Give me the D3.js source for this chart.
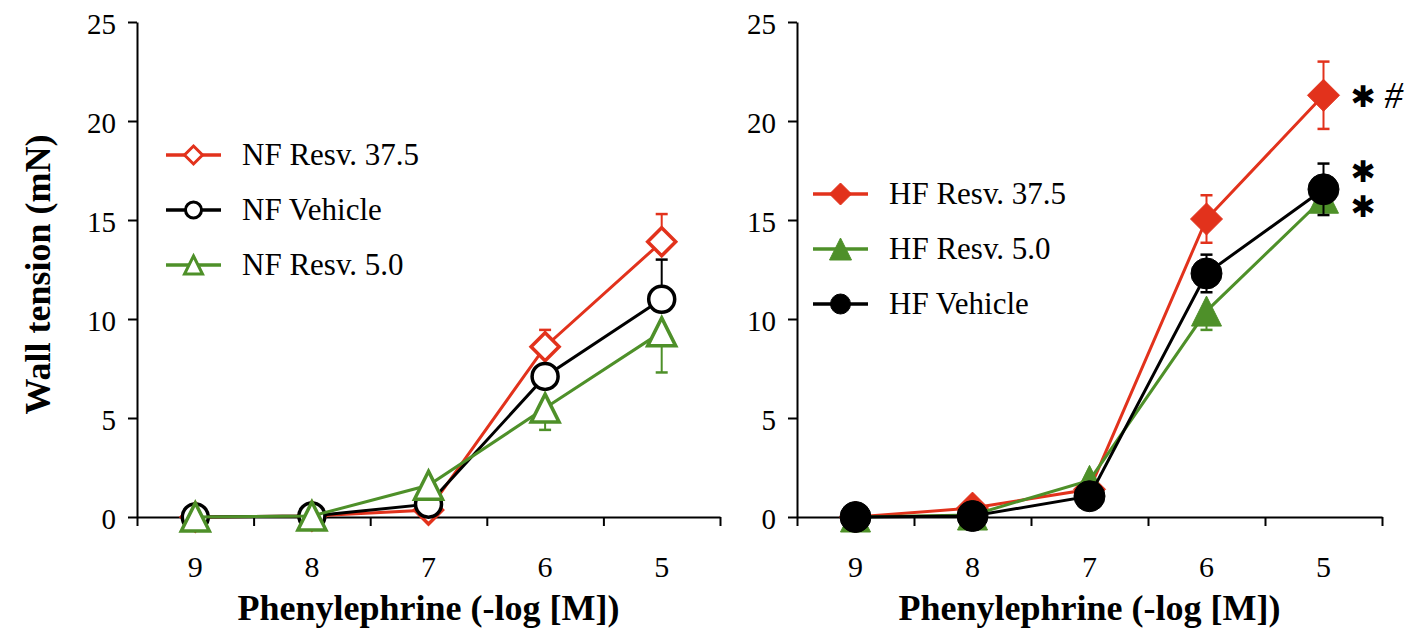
<!DOCTYPE html>
<html>
<head>
<meta charset="utf-8">
<script src="https://cdn.jsdelivr.net/npm/d3@7"></script>
<style>
  body { margin: 0; background: #fff; }
  svg text { font-family: "Liberation Serif", "Times New Roman", serif; }
  svg text.asterisco { font-family: "DejaVu Sans", sans-serif; }
</style>
</head>
<body>
<div id="grafico"></div>
<script>
const concentracoes = ["9", "8", "7", "6", "5"];
const ticksY = [0, 5, 10, 15, 20, 25];

// NF (painel esquerdo)
const nfResv375 = [0, 0.05, 0.35, 8.6, 13.9];
const nfResv375ErroCima = [0, 0, 0, 0.85, 1.4];
const nfVehicle = [0, 0.05, 0.65, 7.1, 11.0];
const nfVehicleErroCima = [0, 0, 0, 0, 2.0];
const nfResv50 = [0, 0.05, 1.6, 5.5, 9.35];
const nfResv50ErroBaixo = [0, 0, 0, 1.1, 2.05];

// HF (painel direito)
const hfResv375 = [0, 0.45, 1.4, 15.05, 21.3];
const hfResv375Erro = [0, 0, 0, 1.2, 1.7];
const hfResv50 = [0, 0.1, 1.85, 10.4, 16.1];
const hfResv50ErroBaixo = [0, 0, 0, 0.95, 0];
const hfVehicle = [0, 0.05, 1.05, 12.3, 16.55];
const hfVehicleErro = [0, 0, 0, 0.95, 1.3];

const anotacoesHF = [
  { texto: "\u2731", valor: 21.25 },
  { texto: "\u2731", valor: 17.5 },
  { texto: "\u2731", valor: 15.7 }
];

const vermelho = "#e2321c";
const verde = "#4e9029";
const preto = "#000";

const largura = 1416, altura = 635;
const svg = d3.select("#grafico").append("svg")
  .attr("width", largura)
  .attr("height", altura);

const y = d3.scaleLinear().domain([0, 25]).range([517, 22]);

function caminhoMarcador(tipo, r) {
  if (tipo === "diamante") return `M0,${-r}L${r},0L0,${r}L${-r},0Z`;
  if (tipo === "triangulo") return `M0,${-r}L${r},${r}L${-r},${r}Z`;
  return d3.arc()({ innerRadius: 0, outerRadius: r, startAngle: 0, endAngle: 2 * Math.PI });
}

function desenharPainel(x0, x1, series, legenda, rotuloY) {
  const g = svg.append("g");
  const x = d3.scaleBand().domain(concentracoes).range([x0, x1]).padding(0);
  const xBordas = d3.scaleLinear().domain([0, concentracoes.length]).range([x0, x1]);

  // eixo x: marcas entre categorias
  g.append("g")
    .attr("transform", `translate(0,${y(0)})`)
    .call(d3.axisBottom(xBordas).ticks(5).tickFormat("").tickSize(9).tickSizeOuter(0))
    .call(a => a.selectAll("path, line").attr("stroke", "#000").attr("stroke-width", 2));

  g.append("g")
    .attr("transform", `translate(0,${y(0)})`)
    .call(d3.axisBottom(x).tickSize(0).tickSizeOuter(0))
    .call(a => a.select(".domain").remove())
    .call(a => a.selectAll("text")
      .attr("y", 60).attr("dy", 0)
      .attr("font-size", 30).attr("fill", "#000"));

  g.append("g")
    .attr("transform", `translate(${x0},0)`)
    .call(d3.axisLeft(y).tickValues(ticksY).tickSize(9).tickSizeOuter(0).tickPadding(12))
    .call(a => a.selectAll("path, line").attr("stroke", "#000").attr("stroke-width", 2))
    .call(a => a.selectAll("text")
      .attr("font-size", 29).attr("fill", "#000")
      .attr("dy", "0.4em"));

  g.append("text")
    .attr("x", (x0 + x1) / 2)
    .attr("y", 620)
    .attr("text-anchor", "middle")
    .attr("font-size", 36)
    .attr("font-weight", "bold")
    .text("Phenylephrine (-log [M])");

  if (rotuloY) {
    g.append("text")
      .attr("transform", `translate(50,${(y(0) + y(25)) / 2 + 5}) rotate(-90)`)
      .attr("text-anchor", "middle")
      .attr("font-size", 36)
      .attr("font-weight", "bold")
      .text("Wall tension (mN)");
  }

  const linha = d3.line().x((d, i) => x(concentracoes[i]) + x.bandwidth() / 2).y(d => y(d));

  series.forEach(s => {
    const gs = g.append("g");
    // barras de erro
    s.valores.forEach((v, i) => {
      const cx = x(concentracoes[i]) + x.bandwidth() / 2;
      const cima = s.erroCima ? s.erroCima[i] : 0;
      const baixo = s.erroBaixo ? s.erroBaixo[i] : 0;
      [[cima, 1], [baixo, -1]].forEach(([e, sinal]) => {
        if (!e) return;
        const yf = y(v + sinal * e);
        gs.append("line").attr("x1", cx).attr("x2", cx).attr("y1", y(v)).attr("y2", yf)
          .attr("stroke", s.cor).attr("stroke-width", 2);
        gs.append("line").attr("x1", cx - 6).attr("x2", cx + 6).attr("y1", yf).attr("y2", yf)
          .attr("stroke", s.cor).attr("stroke-width", 2.5);
      });
    });
    gs.append("path")
      .datum(s.valores)
      .attr("d", linha)
      .attr("fill", "none")
      .attr("stroke", s.cor)
      .attr("stroke-width", 3);
    gs.selectAll("path.marcador")
      .data(s.valores)
      .enter()
      .append("path")
      .attr("class", "marcador")
      .attr("transform", (d, i) => `translate(${x(concentracoes[i]) + x.bandwidth() / 2},${y(d)})`)
      .attr("d", caminhoMarcador(s.marcador, s.raio))
      .attr("fill", s.cheio ? s.cor : "#fff")
      .attr("stroke", s.cor)
      .attr("stroke-width", s.cheio ? 1 : 3.5);
  });

  // legenda
  const leg = g.append("g");
  legenda.itens.forEach((s, i) => {
    const ly = legenda.y + i * 55;
    leg.append("line")
      .attr("x1", legenda.x).attr("x2", legenda.x + 55)
      .attr("y1", ly).attr("y2", ly)
      .attr("stroke", s.cor).attr("stroke-width", 3.5);
    leg.append("path")
      .attr("transform", `translate(${legenda.x + 27.5},${ly})`)
      .attr("d", caminhoMarcador(s.marcador, s.raioLegenda))
      .attr("fill", s.cheio ? s.cor : "#fff")
      .attr("stroke", s.cor)
      .attr("stroke-width", s.cheio ? 1 : 3);
    leg.append("text")
      .attr("x", legenda.x + 76)
      .attr("y", ly + 10)
      .attr("font-size", 31)
      .text(s.nome);
  });

  return x;
}

const nfSeries = {
  r375: { nome: "NF Resv. 37.5", valores: nfResv375, erroCima: nfResv375ErroCima, cor: vermelho, marcador: "diamante", raio: 14, raioLegenda: 9, cheio: false },
  veh: { nome: "NF Vehicle", valores: nfVehicle, erroCima: nfVehicleErroCima, cor: preto, marcador: "circulo", raio: 13, raioLegenda: 8, cheio: false },
  r50: { nome: "NF Resv. 5.0", valores: nfResv50, erroBaixo: nfResv50ErroBaixo, cor: verde, marcador: "triangulo", raio: 14, raioLegenda: 9, cheio: false }
};
desenharPainel(137, 720, [nfSeries.r375, nfSeries.veh, nfSeries.r50],
  { x: 166, y: 155, itens: [nfSeries.r375, nfSeries.veh, nfSeries.r50] }, true);

const hfSeries = {
  r375: { nome: "HF Resv. 37.5", valores: hfResv375, erroCima: hfResv375Erro, erroBaixo: hfResv375Erro, cor: vermelho, marcador: "diamante", raio: 16, raioLegenda: 11, cheio: true },
  r50: { nome: "HF Resv. 5.0", valores: hfResv50, erroBaixo: hfResv50ErroBaixo, cor: verde, marcador: "triangulo", raio: 15, raioLegenda: 11, cheio: true },
  veh: { nome: "HF Vehicle", valores: hfVehicle, erroCima: hfVehicleErro, erroBaixo: hfVehicleErro, cor: preto, marcador: "circulo", raio: 15.5, raioLegenda: 10, cheio: true }
};
const xHF = desenharPainel(797, 1382, [hfSeries.r375, hfSeries.r50, hfSeries.veh],
  { x: 813, y: 194, itens: [hfSeries.r375, hfSeries.r50, hfSeries.veh] }, false);

// marcas de significancia
const xAnot = xHF("5") + xHF.bandwidth() / 2 + 27;
svg.append("g").selectAll("text")
  .data(anotacoesHF)
  .enter()
  .append("text")
  .attr("class", "asterisco")
  .attr("x", xAnot)
  .attr("y", d => y(d.valor) + 11)
  .attr("font-size", 30)
  .text(d => d.texto);

svg.append("text")
  .attr("x", xAnot + 34)
  .attr("y", y(anotacoesHF[0].valor) + 12)
  .attr("font-size", 37)
  .attr("font-style", "italic")
  .text("#");
</script>
</body>
</html>
